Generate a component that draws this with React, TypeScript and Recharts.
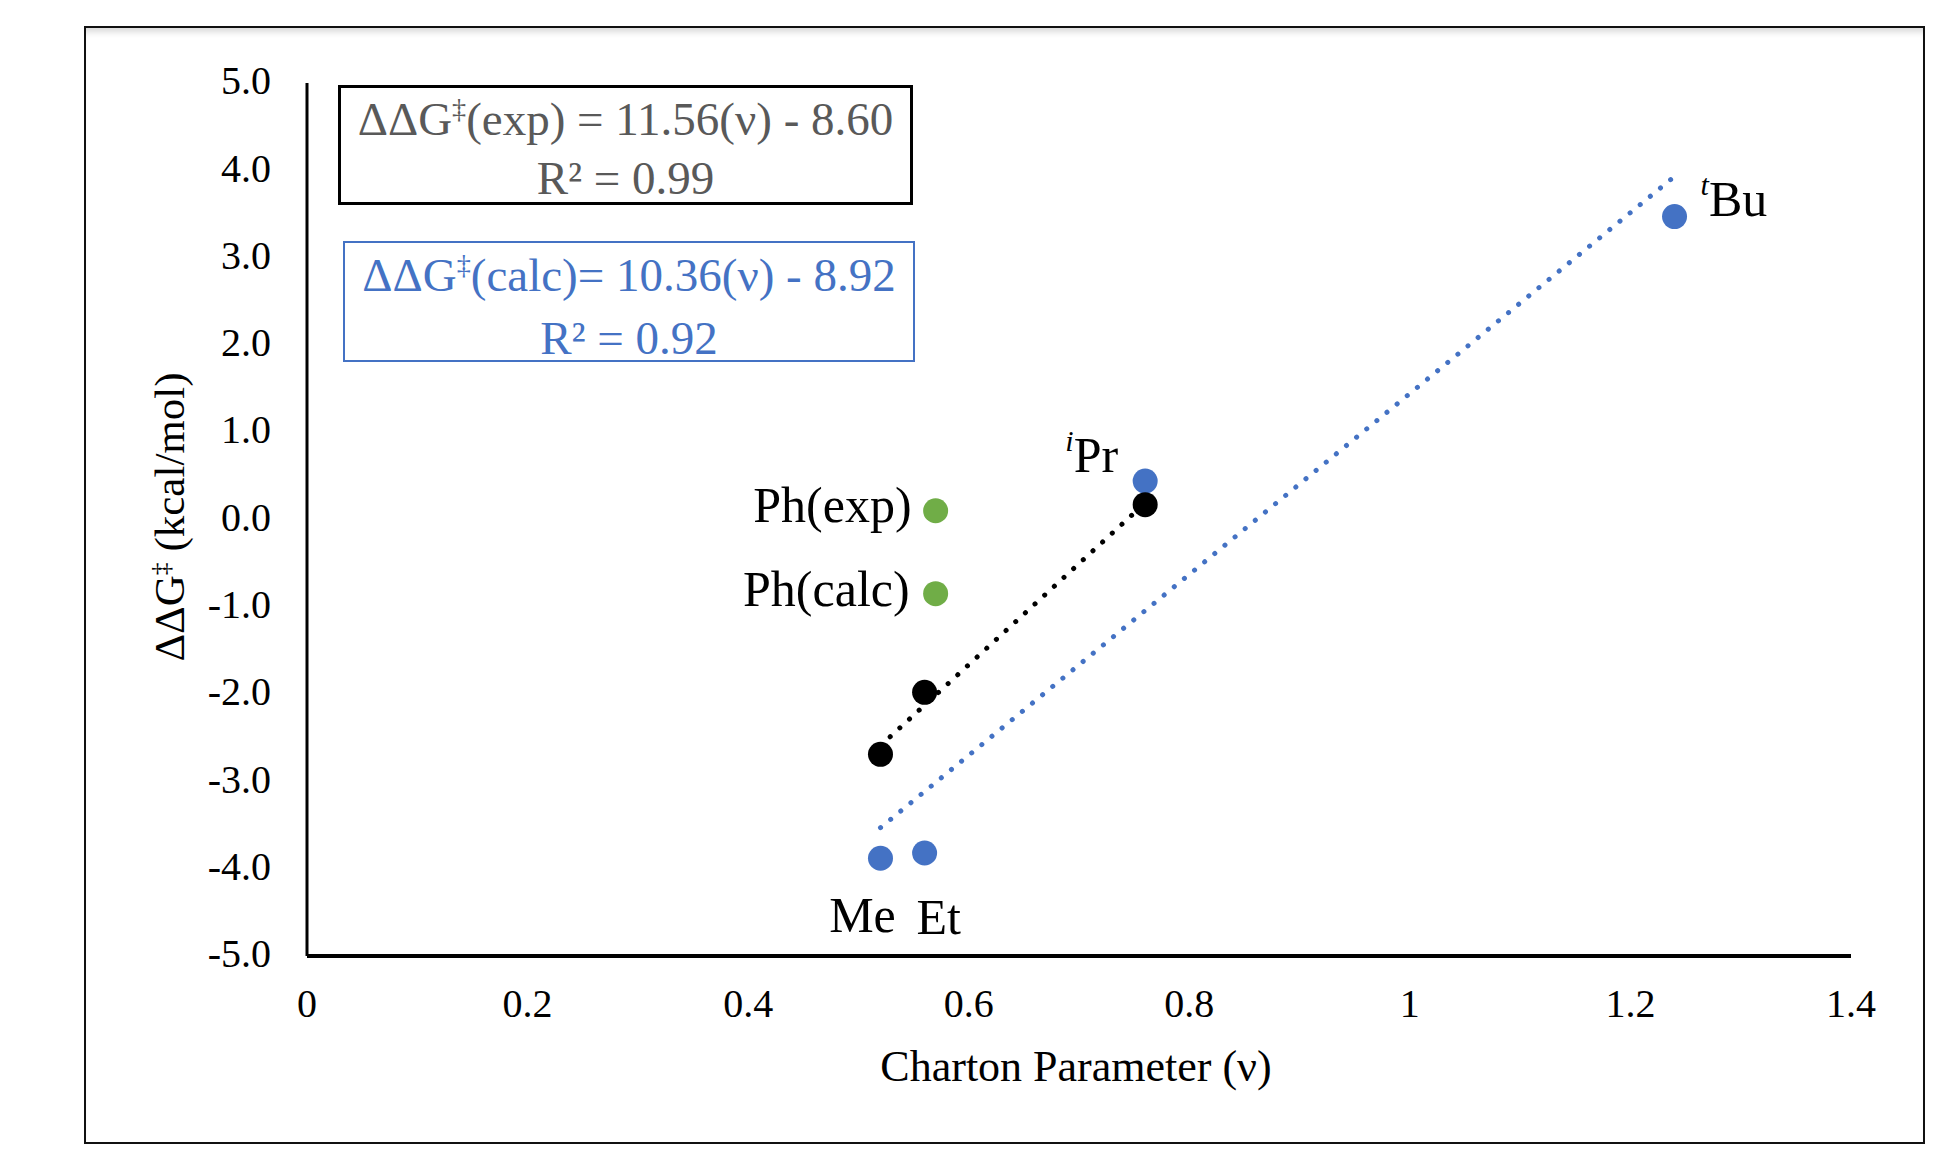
import { Scatter, ScatterChart, XAxis, YAxis } from "recharts";

const FONT = "'Liberation Serif', 'Times New Roman', serif";
const BLUE = "#4472C4";
const GREEN = "#70AD47";

const X_TICKS = [0, 0.2, 0.4, 0.6, 0.8, 1, 1.2, 1.4];
const Y_TICKS = [-5, -4, -3, -2, -1, 0, 1, 2, 3, 4, 5];

// experimental ddG vs Charton parameter
const expPoints = [
  { name: "Me", v: 0.52, dg: -2.69 },
  { name: "Et", v: 0.56, dg: -1.98 },
  { name: "iPr", v: 0.76, dg: 0.17 },
];
// calculated ddG
const calcPoints = [
  { name: "Me", v: 0.52, dg: -3.88 },
  { name: "Et", v: 0.56, dg: -3.82 },
  { name: "iPr", v: 0.76, dg: 0.44 },
  { name: "tBu", v: 1.24, dg: 3.47 },
];
const phPoints = [
  { name: "Ph(exp)", v: 0.57, dg: 0.1 },
  { name: "Ph(calc)", v: 0.57, dg: -0.85 },
];
// trendline end points as drawn
const expTrend = [
  { v: 0.52, dg: -2.59 },
  { v: 0.76, dg: 0.19 },
];
const calcTrend = [
  { v: 0.52, dg: -3.53 },
  { v: 1.24, dg: 3.93 },
];

// label offsets from the point centre, px
const LABELS: Record<string, { dx: number; dy: number; anchor: string }> = {
  "Ph(exp)": { dx: -24, dy: -6, anchor: "end" },
  "Ph(calc)": { dx: -26, dy: -5, anchor: "end" },
  iPr: { dx: -27, dy: -26, anchor: "end" },
  tBu: { dx: 26, dy: -18, anchor: "start" },
  Me: { dx: -18, dy: 57, anchor: "middle" },
  Et: { dx: 14, dy: 64, anchor: "middle" },
};

function labelText(name: string) {
  if (name === "iPr" || name === "tBu") {
    return [
      <tspan key="a" fontStyle="italic" fontSize={30} dy={-15}>
        {name[0]}
      </tspan>,
      <tspan key="b" dy={15}>
        {name.slice(1)}
      </tspan>,
    ];
  }
  return name;
}

function makeDot(color: string, withLabel: boolean) {
  return (props: any) => {
    const { cx, cy, payload } = props;
    const lab = withLabel ? LABELS[payload.name] : undefined;
    return (
      <g>
        <circle cx={cx} cy={cy} r={12.5} fill={color} />
        {lab && (
          <text
            x={cx + lab.dx}
            y={cy + lab.dy}
            textAnchor={lab.anchor as any}
            dominantBaseline="central"
            fontFamily={FONT}
            fontSize={50}
            fill="#000"
          >
            {labelText(payload.name)}
          </text>
        )}
      </g>
    );
  };
}

const noDot = () => <g />;

const sup = { fontSize: "0.6em", position: "relative" as const, top: "-0.6em" };

export default function App() {
  return (
    <div
      style={{
        position: "absolute",
        left: 0,
        top: 0,
        width: 1939,
        height: 1153,
        background: "#fff",
        fontFamily: FONT,
      }}
    >
      <div
        style={{
          position: "absolute",
          left: 84,
          top: 26,
          width: 1841,
          height: 1118,
          border: "2px solid #111",
          boxSizing: "border-box",
          boxShadow: "inset 0 8px 6px -4px rgba(0,0,0,0.15)",
        }}
      />
      <div style={{ position: "absolute", left: 0, top: 0 }}>
        <ScatterChart
          width={1939}
          height={1153}
          margin={{ top: 83, right: 88, bottom: 137, left: 247 }}
        >
          <XAxis
            type="number"
            dataKey="v"
            domain={[0, 1.4]}
            ticks={X_TICKS}
            allowDataOverflow
            height={60}
            tickLine={false}
            tickSize={0}
            tickMargin={33}
            tickFormatter={(v: number) => String(v)}
            axisLine={{ stroke: "#000", strokeWidth: 4 }}
            tick={{ fontFamily: FONT, fontSize: 40, fill: "#000" }}
          />
          <YAxis
            type="number"
            dataKey="dg"
            domain={[-5, 5]}
            ticks={Y_TICKS}
            allowDataOverflow
            width={60}
            tickLine={false}
            tickSize={0}
            tickMargin={36}
            tickFormatter={(v: number) => v.toFixed(1)}
            axisLine={{ stroke: "#000", strokeWidth: 3 }}
            tick={{ fontFamily: FONT, fontSize: 40, fill: "#000", dy: -3 }}
          />
          <Scatter
            data={expTrend}
            shape={noDot}
            line={{ stroke: "#000", strokeWidth: 5, strokeDasharray: "0.1 13", strokeLinecap: "round" }}
            isAnimationActive={false}
          />
          <Scatter
            data={calcTrend}
            shape={noDot}
            line={{ stroke: BLUE, strokeWidth: 5, strokeDasharray: "0.1 13", strokeLinecap: "round" }}
            isAnimationActive={false}
          />
          <Scatter data={calcPoints} shape={makeDot(BLUE, true)} isAnimationActive={false} />
          <Scatter data={expPoints} shape={makeDot("#000", false)} isAnimationActive={false} />
          <Scatter data={phPoints} shape={makeDot(GREEN, true)} isAnimationActive={false} />
        </ScatterChart>
      </div>

      <div
        style={{
          position: "absolute",
          left: 338,
          top: 85,
          width: 575,
          height: 120,
          border: "3px solid #000",
          boxSizing: "border-box",
          textAlign: "center",
          color: "#595959",
          fontSize: 47,
          lineHeight: "53px",
          paddingTop: 5,
          whiteSpace: "nowrap",
        }}
      >
        <div>
          ΔΔG<span style={sup}>‡</span>(exp) = 11.56(ν) - 8.60
        </div>
        <div>R² = 0.99</div>
      </div>

      <div
        style={{
          position: "absolute",
          left: 343,
          top: 241,
          width: 572,
          height: 121,
          border: `2px solid ${BLUE}`,
          boxSizing: "border-box",
          textAlign: "center",
          color: BLUE,
          fontSize: 47,
          lineHeight: "56px",
          paddingTop: 4,
          whiteSpace: "nowrap",
        }}
      >
        <div>
          ΔΔG<span style={sup}>‡</span>(calc)= 10.36(ν) - 8.92
        </div>
        <div>R² = 0.92</div>
      </div>

      <div
        style={{
          position: "absolute",
          left: 1076,
          top: 1066,
          transform: "translate(-50%, -50%)",
          fontSize: 44,
          whiteSpace: "nowrap",
          color: "#000",
        }}
      >
        Charton Parameter (ν)
      </div>
      <div
        style={{
          position: "absolute",
          left: 169,
          top: 517,
          transform: "translate(-50%, -50%) rotate(-90deg)",
          fontSize: 43,
          whiteSpace: "nowrap",
          color: "#000",
        }}
      >
        ΔΔG<span style={sup}>‡</span> (kcal/mol)
      </div>
    </div>
  );
}
